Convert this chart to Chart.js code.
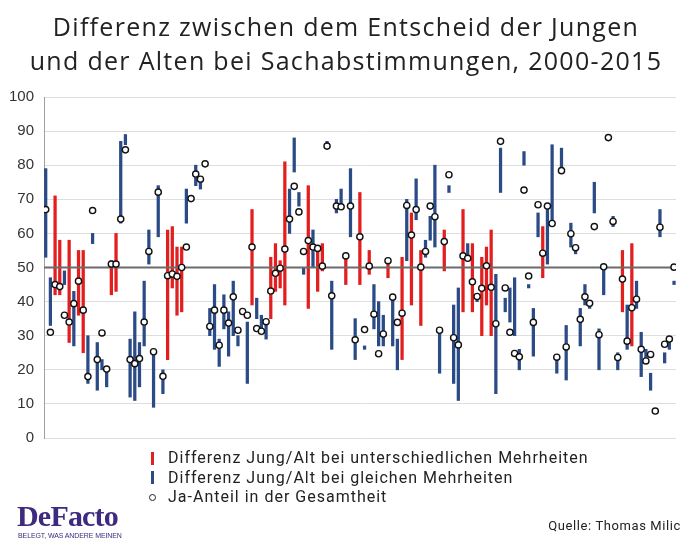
<!DOCTYPE html>
<html>
<head>
<meta charset="utf-8">
<script src="https://cdn.jsdelivr.net/npm/chart.js@4/dist/chart.umd.min.js"></script>
<style>
  html, body { margin:0; padding:0; background:#fff; }
  #wrap { position:relative; width:692px; height:555px; overflow:hidden; }
  #c { position:absolute; left:0; top:0; }
  .title { position:absolute; left:0; width:692px; text-align:center; font-family:"Open Sans", "DejaVu Sans", sans-serif; font-size:25px; letter-spacing:1.3px; color:#222; white-space:nowrap; }
  .leg { position:absolute; left:168px; font-family:"Roboto", "Liberation Sans", sans-serif; font-size:16px; letter-spacing:1px; color:#222; white-space:nowrap; }
  .mk { position:absolute; }
  #src { position:absolute; right:11px; top:518px; font-family:"Roboto", "Liberation Sans", sans-serif; font-size:13px; letter-spacing:0.6px; color:#222; }
  #logo { position:absolute; left:17px; top:500px; font-family:"Liberation Serif", serif; font-weight:bold; font-size:30px; color:#3e2a7e; letter-spacing:-0.8px; line-height:31px; }
  #tag { position:absolute; left:18px; top:532px; font-family:"Liberation Sans", sans-serif; font-size:7px; color:#3e2a7e; letter-spacing:-0.1px; }
</style>
</head>
<body>
<div id="wrap">
  <canvas id="c" width="692" height="555"></canvas>
  <div class="title" style="top:9px;">Differenz zwischen dem Entscheid der Jungen</div>
  <div class="title" style="top:43px;">und der Alten bei Sachabstimmungen, 2000-2015</div>
  <div class="mk" style="left:151px; top:452px; width:3px; height:13px; background:#e31e1e;"></div>
  <div class="leg" style="top:448px;">Differenz Jung/Alt bei unterschiedlichen Mehrheiten</div>
  <div class="mk" style="left:151px; top:471px; width:3px; height:13px; background:#2b4b86;"></div>
  <div class="leg" style="top:468px;">Differenz Jung/Alt bei gleichen Mehrheiten</div>
  <div class="mk" style="left:149px; top:494px; width:5px; height:5px; border:1px solid #222; border-radius:50%;"></div>
  <div class="leg" style="top:487px;">Ja-Anteil in der Gesamtheit</div>
  <div id="logo">DeFacto</div>
  <div id="tag">BELEGT, WAS ANDERE MEINEN</div>
  <div id="src">Quelle: Thomas Milic</div>
</div>
<script>
// Type of difference: 'u' = unterschiedliche Mehrheiten (red), 'g' = gleiche Mehrheiten (blue), '' = no visible bar
const diffType = [
 'g','g','u','u','g','u','g','u','u','g','g','g','g','g','u','u','g','g','g','g',
 'g','g','g','g','g','g','u','u','u','u','g','','g','g','','g','g','g','g','g',
 'g','g','','g','u','g','g','g','u','u','u','u','g','g','g','g','u','g','u','u',
 'g','g','g','g','u','g','g','u','g','u','g','g','g','u','g','g','u','g','u','g',
 'u','g','g','g','g','u','g','g','g','u','g','u','g','u','u','u','g','g','g','g',
 'g','g','g','g','g','g','u','g','g','g','g','g','g','g','g','g','g','g','g','g',
 '','g','g','u','g','u','g','g','g','g','','g','g','g','g'
];
// Lower and upper ends of the young/old range (percent yes)
const rangeLow = [
 53,33,42,42,45,28,27,36,25,16,57,14,20,15,42,43,63,86,12,11,
 15,27,51,9,59,13,23,44,36,37,63,null,74,73,null,30,26,21,32,24,
 30,27,null,16,39,35,31,29,35,43,44,39,60,78,68,48,38,50,43,49,
 85,26,66,67,45,59,23,45,26,48,32,27,27,47,27,20,23,52,39,64,
 33,53,58,56,19,49,72,16,11,37,53,37,40,30,39,30,13,72,37,34,
 30,20,80,44,24,59,47,51,64,19,78.4,17,56,54,27,39,38,66,20,42,
 null,62,20,37,26,27,38,18,22,14,null,59,22,26,45
];
const rangeHigh = [
 79,47,71,58,49,58,43,55,55,30,60,28,23,20,52,60,87,89,29,37,
 28,46,61,25.3,74,20,61,62,56,56,73,null,80,76,null,38,45,29,42,37,
 46,30,null,34,67,41,36,34,53,57,52,81,73,88,72,50,74,61,56,57,
 87,46,70,73,53,79,35,72,27,55,45,40,36,51,42,29,53,70,66,76,
 55,58,65,80,32,61,74,39,44,67,57,57,42,53,56,61,48,85,41,44,
 47,26,84,45,38,66,62,67,86,23.6,85,33,63,56,38,45,40,75,32,50,
 null,65,25,55,39,57,46,31,26,19,null,67,25,28,46
];
// Ja-Anteil in der Gesamtheit
const jaAnteil = [
 67,31,45,44.4,36,34,39.4,46,37.5,18,66.7,23,30.8,20.2,51,51,64.2,84.5,23,21.8,
 23.3,34,54.7,25.3,72.1,18.1,47.6,48.1,47.4,50,56,70.2,77.4,75.9,80.4,32.7,37.5,27.2,37.5,33.7,
 41.4,31.6,37.1,36,56,32.1,31.3,34.1,43.1,48.3,49.8,55.4,64.2,73.8,66.3,54.7,57.9,56,55.6,50.4,
 85.6,41.7,68,67.8,53.4,68,28.8,59,31.8,50.4,36.3,24.7,30.5,52,41.3,33.9,36.6,68.2,59.5,67,
 50.1,54.7,68,64.9,31.6,57.6,77.2,29.4,27.3,53.4,52.7,45.8,41.5,43.9,50.5,44.2,33.5,87,44,31,
 24.8,23.8,72.7,47.5,33.9,68.4,54.2,68,62.9,23.7,78.4,26.7,59.9,55.8,34.8,41.4,39.5,62,30.3,50.2,
 88.1,63.5,23.6,46.6,28.4,38.2,40.7,26,22.6,24.5,7.9,61.8,27.5,29,50.1
];
const yTicks = [0,10,20,30,40,50,60,70,80,90,100];
const referenceLine = 50;

const xMin = -0.363, xMax = 134.42;
const redData = [], blueData = [], circleData = [];
for (let i = 0; i < jaAnteil.length; i++) {
  if (diffType[i] === 'u') redData.push({x:i, y:[rangeLow[i], rangeHigh[i]]});
  else if (diffType[i] === 'g') blueData.push({x:i, y:[rangeLow[i], rangeHigh[i]]});
  circleData.push({x:i, y:jaAnteil[i]});
}

new Chart(document.getElementById('c'), {
  type: 'bar',
  data: {
    datasets: [
      { type:'scatter', label:'Ja-Anteil in der Gesamtheit', data:circleData,
        pointRadius:3.1, pointBackgroundColor:'#ffffff', pointBorderColor:'#111111', pointBorderWidth:1.4, order:0 },
      { type:'line', label:'50%', data:[{x:xMin,y:referenceLine},{x:xMax,y:referenceLine}],
        borderColor:'#6b6b6b', borderWidth:2, pointRadius:0, order:1 },
      { type:'bar', label:'Differenz Jung/Alt bei unterschiedlichen Mehrheiten', data:redData,
        backgroundColor:'#e31e1e', barThickness:2.6, grouped:false, order:2 },
      { type:'bar', label:'Differenz Jung/Alt bei gleichen Mehrheiten', data:blueData,
        backgroundColor:'#2b4b86', barThickness:2.6, grouped:false, order:2 }
    ]
  },
  options: {
    responsive:false, animation:false, devicePixelRatio:1,
    layout:{ padding:{ top:97, bottom:117, left:0, right:16 } },
    plugins:{ legend:{display:false}, tooltip:{enabled:false}, title:{display:false} },
    scales:{
      x:{ type:'linear', min:xMin, max:xMax, offset:false, display:false },
      y:{ min:0, max:100,
          afterFit:(s)=>{ s.width = 44; },
          afterBuildTicks:(s)=>{ s.ticks = yTicks.map(v=>({value:v})); },
          ticks:{ padding:10, color:'#333', font:{ family:'"Liberation Sans", Arial, sans-serif', size:15 } },
          grid:{ color:'#dedede', lineWidth:1, drawTicks:false },
          border:{ color:'#a0a0a0', width:1 } }
    }
  }
});
</script>
</body>
</html>
